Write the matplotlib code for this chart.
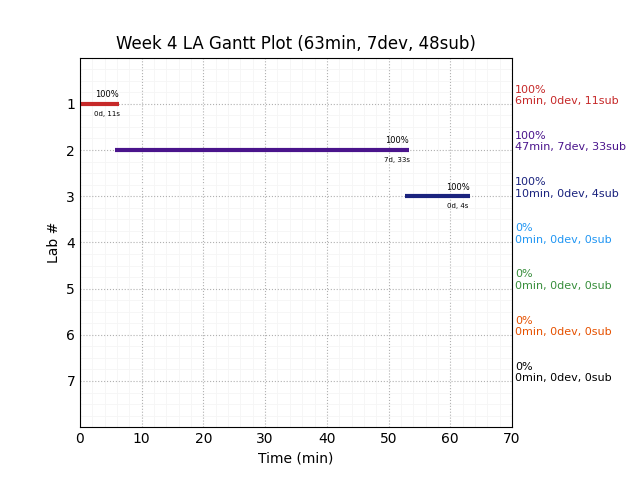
import matplotlib
matplotlib.use("Agg")
import matplotlib.pyplot as plt
from matplotlib.ticker import MultipleLocator

labs = [1, 2, 3, 4, 5, 6, 7]
starts = [0.0, 5.7, 52.7, None, None, None, None]
ends = [6.3, 53.3, 63.2, None, None, None, None]
bar_top = ["100%", "100%", "100%"]
bar_bottom = ["0d, 11s", "7d, 33s", "0d, 4s"]
pct = ["100%", "100%", "100%", "0%", "0%", "0%", "0%"]
mins = [6, 47, 10, 0, 0, 0, 0]
devs = [0, 7, 0, 0, 0, 0, 0]
subs = [11, 33, 4, 0, 0, 0, 0]
colors = ["#c62828", "#4a148c", "#1a237e", "#2196f3", "#388e3c", "#e65100", "#000000"]

fig, ax = plt.subplots(figsize=(6.4, 4.8), dpi=100)
fig.subplots_adjust(left=0.125, right=0.8, top=0.88, bottom=0.11)

for i, lab in enumerate(labs):
    if starts[i] is not None:
        ax.plot([starts[i], ends[i]], [lab, lab], color=colors[i], lw=3, solid_capstyle="butt")
        ax.text(ends[i] - 2, lab - 0.1, bar_top[i], fontsize=6, ha="center", va="bottom")
        ax.text(ends[i] - 2, lab + 0.15, bar_bottom[i], fontsize=5, ha="center", va="top")
    ax.text(70.5, lab + 0.05, f"{pct[i]}\n{mins[i]}min, {devs[i]}dev, {subs[i]}sub",
            color=colors[i], fontsize=8, ha="left", va="bottom", clip_on=False)

ax.set_xlim(0, 70)
ax.set_ylim(8, 0)
ax.set_yticks(labs)
ax.xaxis.set_minor_locator(MultipleLocator(2))
ax.yaxis.set_minor_locator(MultipleLocator(0.25))
ax.grid(True, which="major", ls=":", color="#b0b0b0")
ax.grid(True, which="minor", ls="-", color="#f5f5f5", lw=0.6)
ax.set_axisbelow(True)
ax.tick_params(which="both", length=0)
ax.set_title("Week 4 LA Gantt Plot (63min, 7dev, 48sub)")
ax.set_xlabel("Time (min)")
ax.set_ylabel("Lab #")

fig.savefig("out.png", dpi=100)
